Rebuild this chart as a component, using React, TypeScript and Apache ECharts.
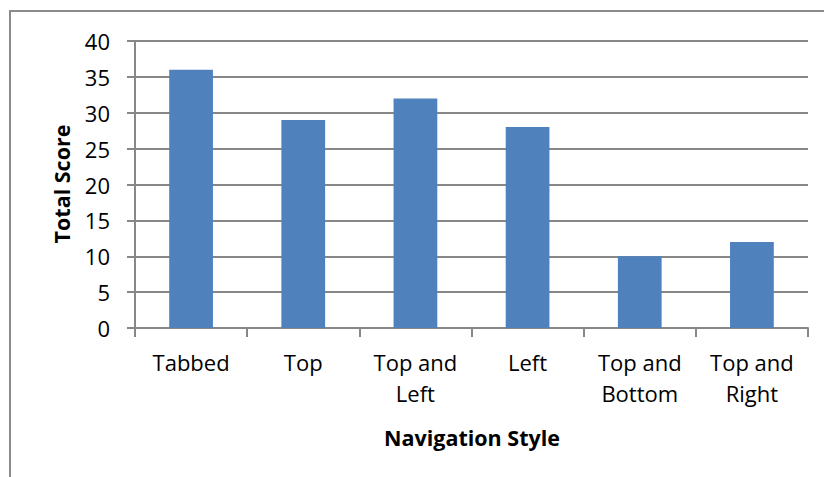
import React, { useEffect, useRef } from "react";
import * as echarts from "echarts";

const categories = ["Tabbed", "Top", "Top and\nLeft", "Left", "Top and\nBottom", "Top and\nRight"];
const totalScores = [36, 29, 32, 28, 10, 12];
const yTicks = { min: 0, max: 40, interval: 5 };

const FONT = "'Open Sans', 'Noto Sans', sans-serif";
const GRID_COLOR = "#878787";

export default function App() {
  const ref = useRef<HTMLDivElement>(null);

  useEffect(() => {
    if (!ref.current) return;
    const chart = echarts.init(ref.current, null, { renderer: "svg" });
    chart.setOption({
      animation: false,
      backgroundColor: "#ffffff",
      textStyle: { fontFamily: FONT },
      graphic: [
        {
          type: "rect",
          shape: { x: 10, y: 11, width: 840, height: 520 },
          style: { fill: "none", stroke: "#8a8a8a", lineWidth: 2 },
          silent: true,
        },
        {
          type: "text",
          x: 61,
          y: 184,
          rotation: Math.PI / 2,
          style: {
            text: "Total Score",
            font: `bold 21.5px ${FONT}`,
            fill: "#000",
            align: "center",
            verticalAlign: "middle",
          },
        },
        {
          type: "text",
          x: 472,
          y: 437,
          style: {
            text: "Navigation Style",
            font: `bold 21.5px ${FONT}`,
            fill: "#000",
            align: "center",
            verticalAlign: "middle",
          },
        },
      ],
      grid: { left: 135, right: 16, top: 41, bottom: 149, containLabel: false },
      xAxis: {
        type: "category",
        data: categories,
        axisLine: { show: true, lineStyle: { color: GRID_COLOR, width: 2 } },
        axisTick: { show: true, length: 9, lineStyle: { color: GRID_COLOR, width: 2 } },
        axisLabel: {
          color: "#000",
          fontFamily: FONT,
          fontSize: 22,
          lineHeight: 31,
          margin: 18,
          interval: 0,
        },
      },
      yAxis: {
        type: "value",
        min: yTicks.min,
        max: yTicks.max,
        interval: yTicks.interval,
        axisLine: { show: true, lineStyle: { color: GRID_COLOR, width: 2 } },
        axisTick: { show: true, length: 8, lineStyle: { color: GRID_COLOR, width: 2 } },
        splitLine: { show: true, lineStyle: { color: GRID_COLOR, width: 2 } },
        axisLabel: { color: "#000", fontFamily: FONT, fontSize: 22, margin: 25 },
      },
      series: [
        {
          type: "bar",
          data: totalScores,
          barWidth: "39%",
          itemStyle: { color: "#4f81bd" },
        },
      ],
    });
    return () => chart.dispose();
  }, []);

  return (
    <div
      ref={ref}
      style={{ position: "fixed", left: 0, top: 0, width: 824, height: 477 }}
    />
  );
}
